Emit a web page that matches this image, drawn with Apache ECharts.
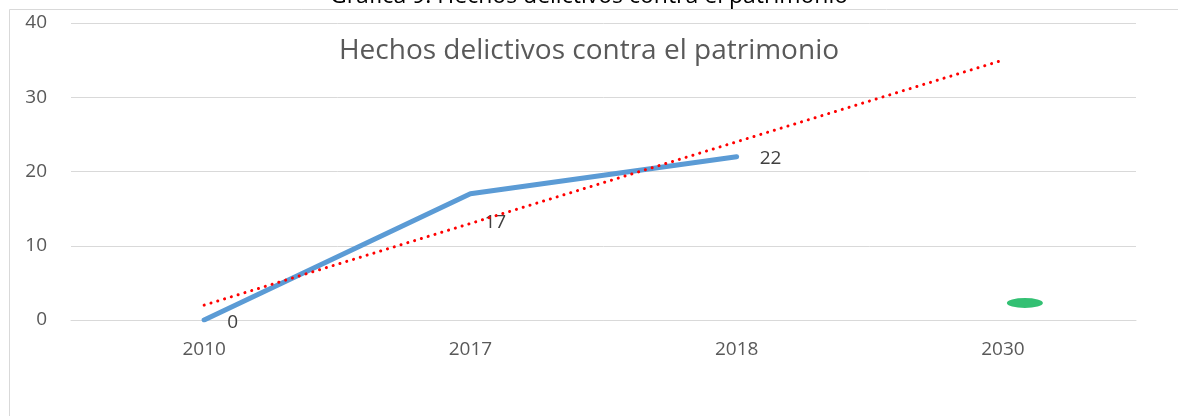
<!DOCTYPE html>
<html>
<head>
<meta charset="utf-8">
<script src="https://cdn.jsdelivr.net/npm/echarts@6/dist/echarts.min.js"></script>
<style>
  html, body { margin: 0; padding: 0; background: #fff; }
  #chart { width: 1178px; height: 416px; }
</style>
</head>
<body>
<div id="chart"></div>
<script>
var years = ['2010', '2017', '2018', '2030'];
var hechos = [0, 17, 22, null];
var tendencia = [2, 13, 24, 35];
var meta = [null, null, null, 2.3];
var yTicks = [0, 10, 20, 30, 40];

var font = '"Open Sans", sans-serif';
var myChart = echarts.init(document.getElementById('chart'));
myChart.setOption({
  animation: false,
  backgroundColor: '#fff',
  textStyle: { fontFamily: font },
  title: [{
    text: 'Gráfica 9. Hechos delictivos contra el patrimonio',
    left: 'center',
    top: -20,
    textStyle: { fontFamily: font, fontSize: 23, fontWeight: 'normal', color: '#000' }
  }, {
    text: 'Hechos delictivos contra el patrimonio',
    left: 'center',
    top: 32,
    textStyle: { fontFamily: font, fontSize: 28, fontWeight: 'normal', color: '#595959' }
  }],
  graphic: [{
    type: 'rect',
    shape: { x: 9.5, y: 9.5, width: 1200, height: 420 },
    style: { fill: 'none', stroke: '#d9d9d9', lineWidth: 1 },
    z: -1
  }],
  grid: { left: 71, right: 42, top: 23, bottom: 96 },
  xAxis: {
    type: 'category',
    data: years,
    boundaryGap: true,
    axisLine: { show: true, lineStyle: { color: '#d9d9d9', width: 1 } },
    axisTick: { show: false },
    axisLabel: { fontFamily: font, fontSize: 19, color: '#595959', margin: 20 }
  },
  yAxis: {
    type: 'value',
    min: yTicks[0],
    max: yTicks[yTicks.length - 1],
    interval: 10,
    axisLine: { show: false },
    axisTick: { show: false },
    axisLabel: { fontFamily: font, fontSize: 19, color: '#595959', margin: 24 },
    splitLine: { lineStyle: { color: '#d9d9d9', width: 1 } }
  },
  series: [{
    name: 'Hechos',
    type: 'line',
    data: hechos.map(function (v, i) {
      var off = [[18, 3], [9, 29], [18, 2], [0, 0]][i];
      return { value: v, label: { offset: off } };
    }),
    showSymbol: true,
    symbol: 'circle',
    symbolSize: 0.1,
    itemStyle: { color: '#5b9bd5' },
    connectNulls: false,
    lineStyle: { color: '#5b9bd5', width: 5, cap: 'round' },
    label: {
      show: true,
      position: 'right',
      fontFamily: font,
      fontSize: 19,
      color: '#404040'
    },
    z: 3
  }, {
    name: 'Tendencia',
    type: 'line',
    data: tendencia,
    showSymbol: false,
    lineStyle: { color: '#ff0000', width: 3, type: [0.1, 7], cap: 'round' },
    z: 4
  }, {
    name: 'Meta',
    type: 'scatter',
    data: meta,
    symbol: 'circle',
    symbolSize: [36, 10],
    symbolOffset: [22, 0],
    itemStyle: { color: '#00b050' },
    z: 5
  }]
});
</script>
</body>
</html>
